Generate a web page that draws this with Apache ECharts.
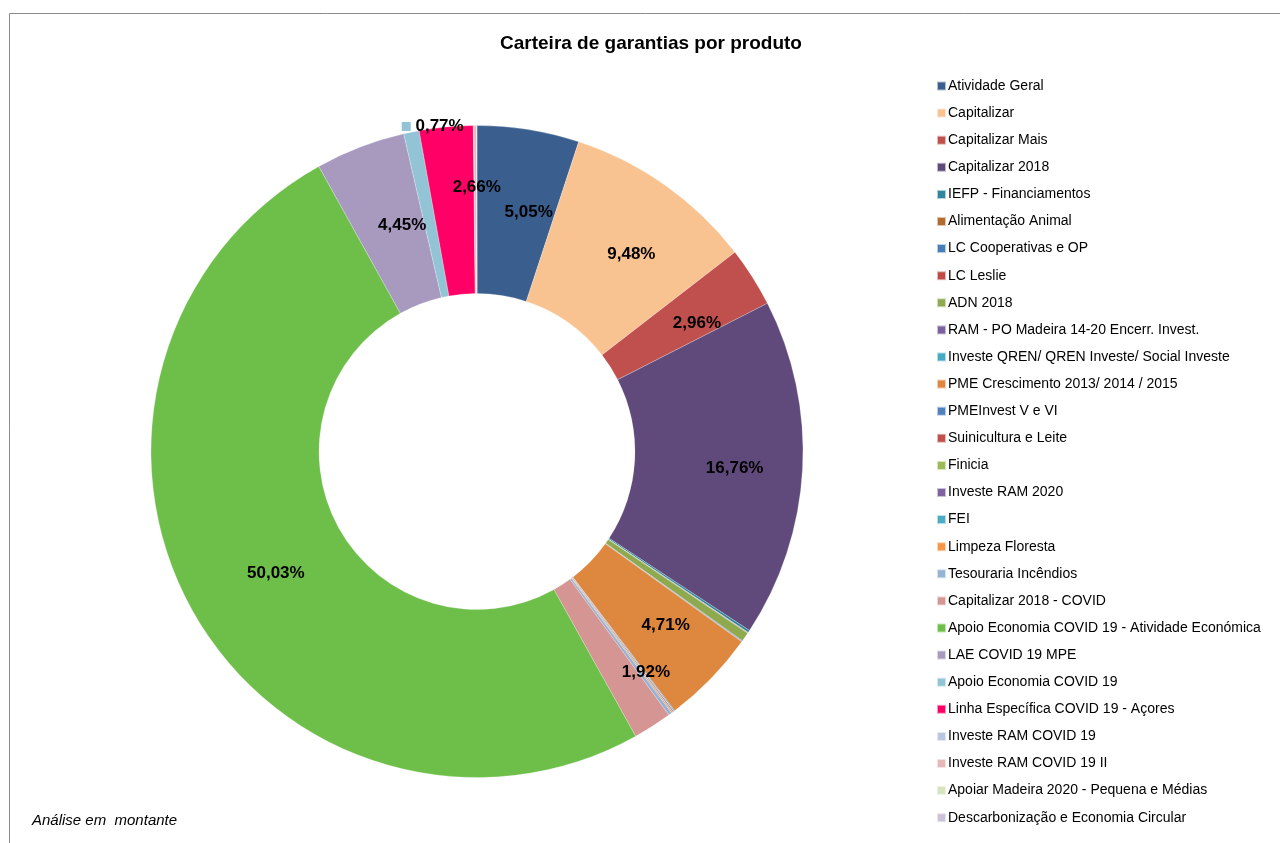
<!DOCTYPE html>
<html>
<head>
<meta charset="utf-8">
<script src="https://cdn.jsdelivr.net/npm/echarts@6/dist/echarts.min.js"></script>
<style>
html,body{margin:0;padding:0;background:#fff;}
#chart{width:1280px;height:843px;}
</style>
</head>
<body>
<div id="chart"></div>
<script>
var categories = [
  "Atividade Geral",
  "Capitalizar",
  "Capitalizar Mais",
  "Capitalizar 2018",
  "IEFP - Financiamentos",
  "Alimentação Animal",
  "LC Cooperativas e OP",
  "LC Leslie",
  "ADN 2018",
  "RAM - PO Madeira 14-20 Encerr. Invest.",
  "Investe QREN/ QREN Investe/ Social Investe",
  "PME Crescimento 2013/ 2014 / 2015",
  "PMEInvest V e VI",
  "Suinicultura e Leite",
  "Finicia",
  "Investe RAM 2020",
  "FEI",
  "Limpeza Floresta",
  "Tesouraria Incêndios",
  "Capitalizar 2018 - COVID",
  "Apoio Economia COVID 19 - Atividade Económica",
  "LAE COVID 19 MPE",
  "Apoio Economia COVID 19",
  "Linha Específica COVID 19 - Açores",
  "Investe RAM COVID 19",
  "Investe RAM COVID 19 II",
  "Apoiar Madeira 2020 - Pequena e Médias",
  "Descarbonização e Economia Circular"
];
var shares = [
  5.05, 9.48, 2.96, 16.76, 0.12, 0.01, 0.02, 0.01, 0.45, 0.03,
  0.03, 4.71, 0.04, 0.01, 0.01, 0.05, 0.02, 0.06, 0.17, 1.92,
  50.03, 4.45, 0.77, 2.66, 0.03, 0.12, 0.01, 0.02
];
var colors = [
  "#3A5F8E", "#F9C291", "#C0504D", "#604A7B", "#31859C", "#B46B2F", "#4A7EBB",
  "#BE4B48", "#8FAA4E", "#7D60A0", "#46AAC5", "#DE873F", "#4F81BD", "#C0504D",
  "#9BBB59", "#8064A2", "#4BACC6", "#F79646", "#95B3D7", "#D49593", "#6EBE4A",
  "#A899BF", "#92C4D6", "#FF0066", "#B9C6E0", "#E6B9B8", "#D7E4BD", "#CCC1DA"
];
var labelMin = 0.7;

function fmt(v){ return v.toFixed(2).replace('.', ',') + '%'; }

var data = categories.map(function(name, i){
  var v = shares[i];
  var item = {
    name: name,
    value: v,
    itemStyle: { color: colors[i] },
    label: { show: v >= labelMin }
  };
  if (name === "Apoio Economia COVID 19") {
    item.label.formatter = '{k|} {t|' + fmt(v) + '}';
  }
  return item;
});

// label nudges (Excel places its donut labels slightly differently)
var labelShift = {
  "Apoio Economia COVID 19": [5, -85],
  "Linha Específica COVID 19 - Açores": [23, -20],
  "Capitalizar 2018 - COVID": [37, 14]
};

var chart = echarts.init(document.getElementById('chart'), null, {renderer: 'canvas'});
chart.setOption({
  animation: false,
  backgroundColor: '#ffffff',
  color: colors,
  title: {
    text: 'Carteira de garantias por produto',
    left: 646,
    top: 29,
    textAlign: 'center',
    textStyle: { fontFamily: 'Liberation Sans, Arial, sans-serif', fontSize: 19, fontWeight: 'bold', color: '#000' }
  },
  legend: {
    orient: 'vertical',
    left: 931,
    top: 73,
    itemWidth: 9,
    itemHeight: 9,
    itemGap: 11.1,
    icon: 'rect',
    selectedMode: false,
    data: categories,
    textStyle: {
      fontFamily: 'Liberation Sans, Arial, sans-serif',
      fontSize: 14,
      color: '#000',
      lineHeight: 16,
      padding: [0, 0, 0, -3]
    }
  },
  graphic: [
    {
      type: 'rect',
      shape: { x: 9.5, y: 13.5, width: 1400, height: 1000 },
      style: { fill: 'none', stroke: '#8c8c8c', lineWidth: 1 },
      silent: true
    },
    {
      type: 'text',
      left: 32,
      top: 813,
      style: {
        text: 'Análise em  montante',
        font: 'italic 15px "Liberation Sans", Arial, sans-serif',
        fill: '#000'
      },
      silent: true
    }
  ],
  series: [{
    type: 'pie',
    center: [477, 451.5],
    radius: [158, 326],
    startAngle: 90,
    clockwise: true,
    avoidLabelOverlap: false,
    minAngle: 0,
    itemStyle: { borderColor: 'rgba(255,255,255,0.6)', borderWidth: 0.4 },
    label: {
      show: true,
      position: 'inside',
      formatter: function(p){ return fmt(p.value); },
      fontFamily: 'Liberation Sans, Arial, sans-serif',
      fontSize: 17,
      fontWeight: 'bold',
      color: '#000',
      rich: {
        k: { width: 9, height: 9, backgroundColor: '#92C4D6' },
        t: { fontFamily: 'Liberation Sans, Arial, sans-serif', fontSize: 17, fontWeight: 'bold', color: '#000' }
      }
    },
    labelLine: { show: false },
    labelLayout: function(p){
      var n = categories[p.dataIndex];
      var s = labelShift[n];
      if (s) return { dx: s[0], dy: s[1] };
      return { dx: 13, dy: 3 };
    },
    emphasis: { disabled: true },
    data: data
  }]
});
</script>
</body>
</html>
